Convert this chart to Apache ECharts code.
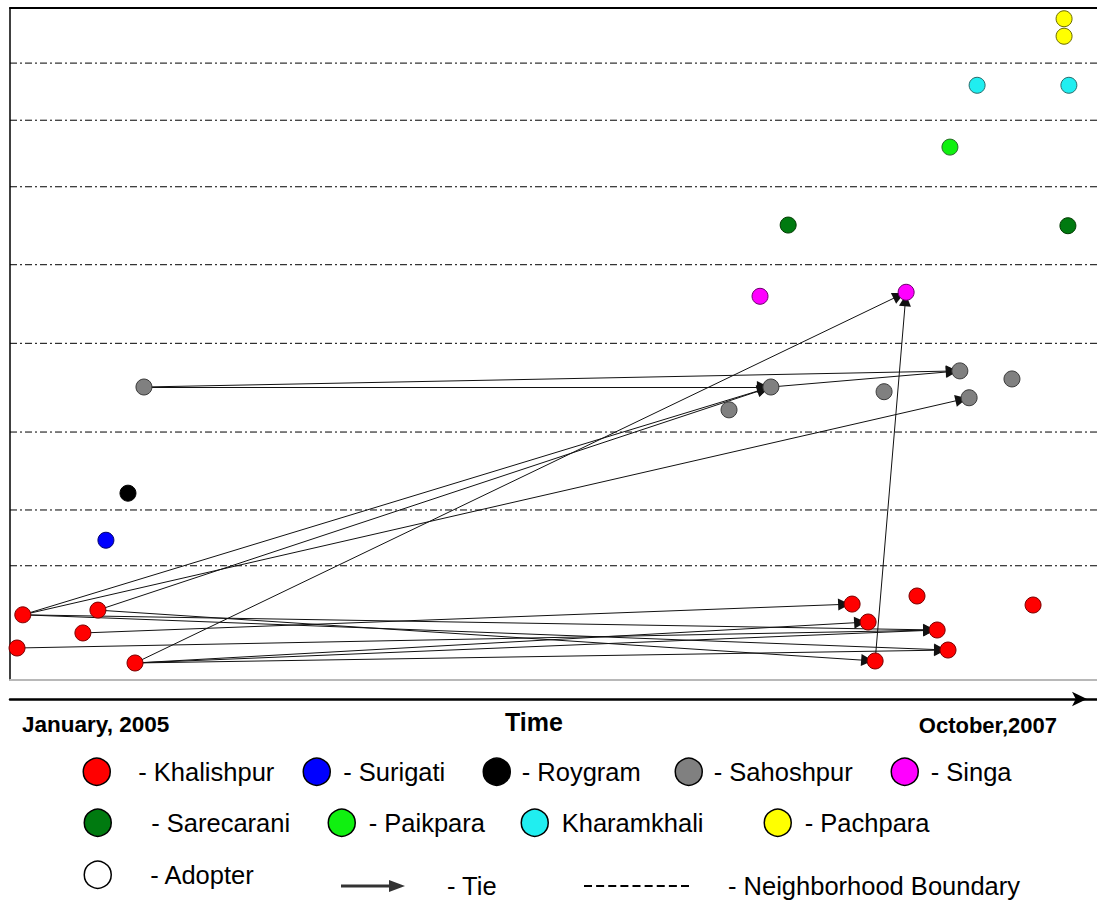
<!DOCTYPE html>
<html><head><meta charset="utf-8">
<script src="https://cdn.jsdelivr.net/npm/echarts@6/dist/echarts.min.js"></script>
<style>html,body{margin:0;padding:0;background:#fff}#c{width:1097px;height:905px}</style>
</head><body><div id="c"></div>
<script>
// ---------- DATA (time in months since January 2005, vertical position 0-100) ----------
const neighborhoods = ['Khalishpur','Surigati','Roygram','Sahoshpur','Singa','Sarecarani','Paikpara','Kharamkhali','Pachpara'];
const khalishpur = [[0.4,9.7],[2.75,10.4],[2.28,7.0],[0.22,4.76],[3.91,2.53],[26.34,11.3],[26.84,8.63],[28.37,12.5],[29.0,7.44],[29.34,4.46],[27.06,2.83],[32.0,11.16]];
const surigati = [[3.0,20.8]];
const roygram = [[3.69,27.8]];
const sahoshpur = [[4.19,43.6],[22.49,40.2],[23.8,43.6],[27.34,42.9],[29.71,46.0],[31.34,44.8],[30.0,42.0]];
const singa = [[23.46,57.1],[28.03,57.7]];
const sarecarani = [[24.34,67.7],[33.09,67.6]];
const paikpara = [[29.4,79.3]];
const kharamkhali = [[30.25,88.5],[33.12,88.5]];
const pachpara = [[32.97,98.4],[32.97,95.8]];
// ties: [from neighborhood, index(1-based), to neighborhood, index]
const ties = [
  ['Khalishpur',1,'Sahoshpur',3],['Khalishpur',2,'Sahoshpur',3],['Khalishpur',1,'Sahoshpur',7],
  ['Khalishpur',5,'Singa',2],['Khalishpur',11,'Singa',2],
  ['Sahoshpur',1,'Sahoshpur',3],['Sahoshpur',1,'Sahoshpur',5],['Sahoshpur',3,'Sahoshpur',5],
  ['Khalishpur',3,'Khalishpur',6],['Khalishpur',1,'Khalishpur',9],['Khalishpur',1,'Khalishpur',10],
  ['Khalishpur',2,'Khalishpur',11],['Khalishpur',4,'Khalishpur',9],['Khalishpur',5,'Khalishpur',7],
  ['Khalishpur',5,'Khalishpur',9],['Khalishpur',5,'Khalishpur',10]
];
const boundaries = [91.8,83.3,73.4,61.8,50.1,36.9,25.3,17.0];
const timeRange = [0,34];
const axisTexts = ['January, 2005','Time','October,2007'];
const legendNames = ['Khalishpur','Surigati','Roygram','Sahoshpur','Singa','Sarecarani','Paikpara','Kharamkhali','Pachpara','Adopter','Tie','Neighborhood Boundary'];
const legendLabels = ['- Khalishpur','- Surigati','- Roygram','- Sahoshpur','- Singa','- Sarecarani','- Paikpara','Kharamkhali','- Pachpara','- Adopter','- Tie','- Neighborhood Boundary'];

// ---------- STYLE ----------
const FONT = 'Liberation Sans, Arial, sans-serif';
const fills = {Khalishpur:'#ff0000',Surigati:'#0000ff',Roygram:'#000000',Sahoshpur:'#808080',Singa:'#ff00ff',Sarecarani:'#007a10',Paikpara:'#10f010',Kharamkhali:'#20eef0',Pachpara:'#ffff00',Adopter:'#ffffff'};
const strokes = {Khalishpur:'#7a0000',Surigati:'#00006a',Roygram:'#000000',Sahoshpur:'#3a3a3a',Singa:'#6a006a',Sarecarani:'#003a00',Paikpara:'#2a6a2a',Kharamkhali:'#2a6a6a',Pachpara:'#6a6a00',Adopter:'#000000'};
const pointsBy = {Khalishpur:khalishpur,Surigati:surigati,Roygram:roygram,Sahoshpur:sahoshpur,Singa:singa,Sarecarani:sarecarani,Paikpara:paikpara,Kharamkhali:kharamkhali,Pachpara:pachpara};

const catNames = neighborhoods.concat(['Adopter']);
const nodes = [];
neighborhoods.forEach(function(n){
  pointsBy[n].forEach(function(p,i){
    nodes.push({name:n+' '+(i+1), value:p, category:catNames.indexOf(n)});
  });
});
const links = ties.map(function(t){ return {source:t[0]+' '+t[1], target:t[2]+' '+t[3]}; });

let dashPath = 'path://';
for (let i=0;i<9;i++){ const x0=(i*12.125).toFixed(3); dashPath += 'M'+x0+',0h8v2h-8z'; }
const arrowPath = 'path://M0,4.5H50V7.5H0Z M48,0L64,6L48,12Z';

const legendLayout = [
  {left:82.5,top:757.5,pad:23},{left:302.5,top:757.5,pad:8},{left:482.5,top:757.5,pad:6.5},{left:674.5,top:757.5,pad:6.5},{left:890.5,top:757.5,pad:7.5},
  {left:83.5,top:808.5,pad:35},{left:327.5,top:808.5,pad:8.5},{left:520.5,top:808.5,pad:8.5},{left:763.5,top:808.5,pad:8.5},
  {left:83.5,top:860.5,pad:34},
  {left:341,top:873,pad:37,icon:arrowPath,w:64,h:26},
  {left:584,top:873,pad:34,icon:dashPath,w:105,h:26}
];
const legends = legendNames.map(function(name,i){
  const L = legendLayout[i];
  const isCircle = !L.icon;
  return {
    left:L.left, top:L.top, padding:0, orient:'horizontal', selectedMode:false,
    data:[{name:name, icon: isCircle ? 'circle' : L.icon}],
    itemWidth: isCircle ? 27 : L.w, itemHeight: isCircle ? 27 : L.h,
    itemStyle: isCircle ? {borderColor:'#000', borderWidth:1.5} : {borderWidth:0, color:'#000'},
    formatter: function(){ return '{t|'+legendLabels[i]+'}'; },
    textStyle:{color:'#000', fontSize:25.5, fontFamily:FONT,
      rich:{t:{padding:[0,0,0,L.pad], fontSize:25.5, fontFamily:FONT, color:'#000'}}}
  };
});

const series = [];
boundaries.forEach(function(b){
  series.push({type:'line', name:'Neighborhood Boundary', xAxisIndex:0, yAxisIndex:0, silent:true, z:1,
    symbol:'none', data:[[timeRange[0],b],[timeRange[1],b]],
    itemStyle:{color:'#000'}, lineStyle:{color:'#000', width:1, type:[7,3,2,3]}, animation:false});
});
series.push({type:'scatter', name:'Tie', data:[], itemStyle:{color:'#000'}});
series.push({
  type:'graph', layout:'none', coordinateSystem:'cartesian2d', xAxisIndex:0, yAxisIndex:0, z:3,
  symbol:'circle', symbolSize:16, roam:false, animation:false, silent:true,
  categories: catNames.map(function(n){ return {name:n, itemStyle:{color:fills[n], borderColor:strokes[n], borderWidth:1}}; }),
  data: nodes, links: links,
  label:{show:false},
  edgeSymbol:['none','triangle'], edgeSymbolSize:[0,12],
  lineStyle:{color:'#111', width:1, opacity:1, curveness:0},
  emphasis:{disabled:true}
});

const hiddenAxis = {axisLabel:{show:false}, axisTick:{show:false}, splitLine:{show:false}};
const option = {
  backgroundColor:'#fff',
  animation:false,
  grid:{left:10, right:0, top:8, bottom:225, containLabel:false},
  xAxis:[
    Object.assign({type:'value', position:'bottom', min:timeRange[0], max:timeRange[1], axisLine:{show:true, lineStyle:{color:'#b8b8b8', width:2}}}, hiddenAxis),
    Object.assign({type:'value', position:'top', min:timeRange[0], max:timeRange[1], axisLine:{show:true, lineStyle:{color:'#000', width:2}}}, hiddenAxis),
    Object.assign({type:'value', position:'bottom', offset:19, min:timeRange[0], max:timeRange[1],
      axisLine:{show:true, symbol:['none','arrow'], symbolSize:[11,15], symbolOffset:[0,-10], lineStyle:{color:'#000', width:2.5}}}, hiddenAxis)
  ],
  yAxis:[Object.assign({type:'value', min:0, max:100, axisLine:{show:true, lineStyle:{color:'#000', width:1.5}}}, hiddenAxis)],
  legend: legends,
  graphic:[
    {type:'text', x:22, y:724, style:{text:axisTexts[0], fill:'#000', font:'bold 22.5px '+FONT, align:'left', verticalAlign:'middle'}},
    {type:'text', x:534, y:722, style:{text:axisTexts[1], fill:'#000', font:'bold 25px '+FONT, align:'center', verticalAlign:'middle'}},
    {type:'text', x:1057, y:725, style:{text:axisTexts[2], fill:'#000', font:'bold 22px '+FONT, align:'right', verticalAlign:'middle'}}
  ],
  series: series
};
const chart = echarts.init(document.getElementById('c'), null, {renderer:'svg'});
chart.setOption(option);
</script>
</body></html>
